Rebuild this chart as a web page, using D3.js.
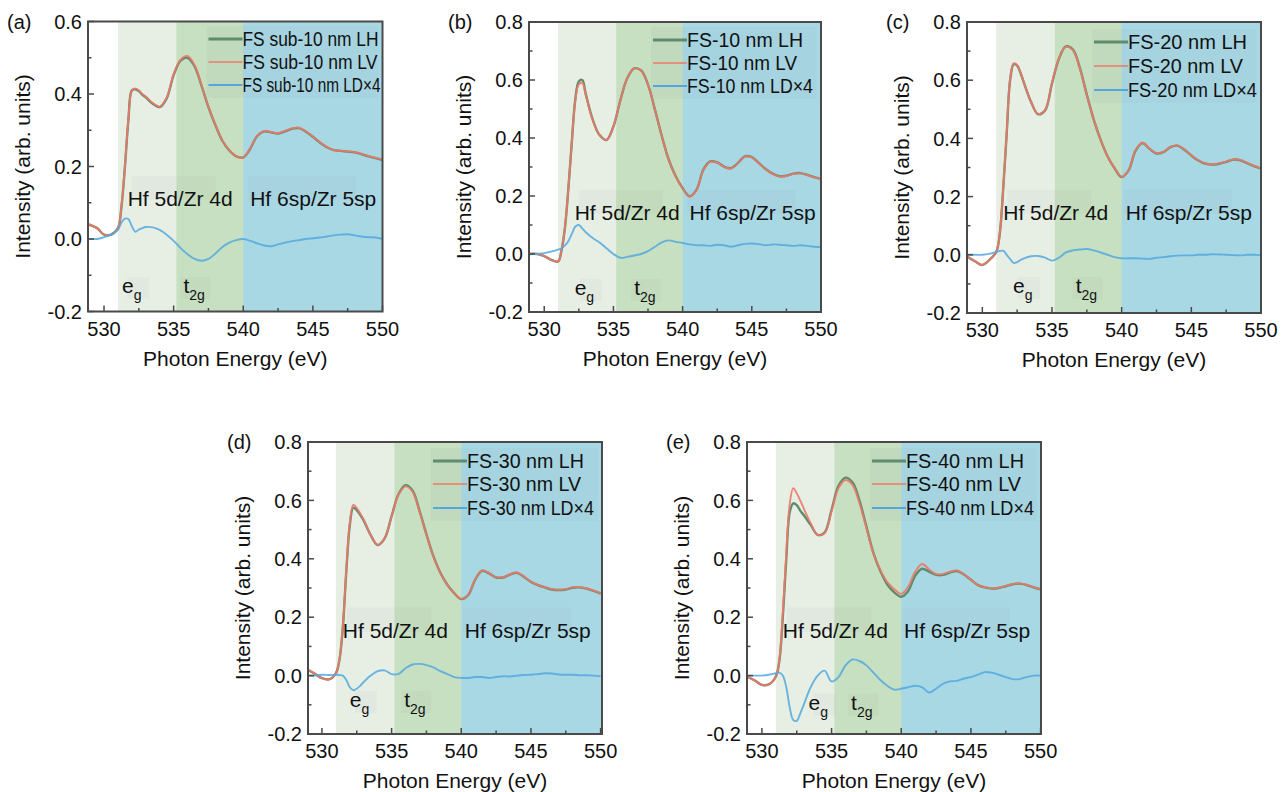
<!DOCTYPE html>
<html><head><meta charset="utf-8">
<script src="https://cdn.jsdelivr.net/npm/d3@7"></script>
<style>
body{margin:0;background:#fff}
svg{display:block}
text{font-family:"Liberation Sans",Arial,Helvetica,sans-serif;fill:#111}
</style>
</head><body>
<svg id="chart" width="1283" height="792"></svg>
<script>
// ---------- data ----------
const energy = [528.9,529.5,530,530.5,531,531.25,531.5,531.75,532,532.25,532.5,532.75,533,533.5,534,534.5,535,535.5,536,536.5,537,537.5,538,538.5,539,539.5,540,540.5,541,541.5,542,542.5,543,543.5,544,544.5,545,545.5,546,546.5,547,547.5,548,548.5,549,549.5,550];

const aLV = [0.04,0.03,0.012,0.012,0.03,0.09,0.20,0.33,0.41,0.415,0.41,0.40,0.393,0.375,0.365,0.39,0.455,0.495,0.505,0.48,0.425,0.365,0.315,0.272,0.245,0.228,0.225,0.25,0.285,0.298,0.295,0.292,0.298,0.305,0.307,0.297,0.283,0.267,0.254,0.245,0.243,0.242,0.240,0.235,0.229,0.224,0.219];
const aLH = [0.04,0.03,0.012,0.012,0.03,0.088,0.198,0.328,0.41,0.413,0.408,0.398,0.391,0.373,0.364,0.388,0.452,0.492,0.50,0.477,0.423,0.364,0.314,0.271,0.244,0.228,0.225,0.249,0.284,0.297,0.294,0.291,0.297,0.304,0.306,0.296,0.282,0.266,0.253,0.245,0.243,0.241,0.239,0.234,0.228,0.223,0.218];
const aLD = [0.0,0.0,0.005,0.012,0.025,0.045,0.056,0.055,0.035,0.02,0.026,0.03,0.033,0.032,0.025,0.012,-0.005,-0.025,-0.042,-0.055,-0.06,-0.055,-0.04,-0.022,-0.01,-0.003,0.0,-0.005,-0.012,-0.018,-0.02,-0.015,-0.01,-0.006,-0.003,0.0,0.002,0.004,0.007,0.01,0.012,0.013,0.01,0.007,0.005,0.004,0.0];

const bLV = [0.0,0.0,-0.007,-0.02,-0.026,0.014,0.094,0.23,0.39,0.53,0.585,0.59,0.548,0.462,0.41,0.393,0.44,0.53,0.606,0.64,0.632,0.583,0.497,0.405,0.324,0.267,0.226,0.198,0.22,0.29,0.318,0.315,0.30,0.295,0.313,0.336,0.333,0.313,0.292,0.276,0.267,0.269,0.276,0.278,0.272,0.264,0.257];
const bLH = [0.0,0.0,-0.007,-0.02,-0.026,0.012,0.092,0.228,0.39,0.535,0.595,0.60,0.552,0.464,0.41,0.393,0.44,0.53,0.606,0.64,0.633,0.584,0.498,0.406,0.325,0.268,0.227,0.199,0.221,0.291,0.319,0.316,0.301,0.296,0.314,0.337,0.334,0.314,0.293,0.277,0.268,0.27,0.277,0.279,0.273,0.265,0.258];
const bLD = [0.0,0.0,0.003,0.008,0.015,0.02,0.03,0.045,0.07,0.095,0.1,0.088,0.075,0.055,0.04,0.02,0.0,-0.013,-0.01,-0.005,0.0,0.01,0.025,0.04,0.047,0.042,0.038,0.033,0.03,0.03,0.028,0.032,0.03,0.025,0.03,0.035,0.036,0.034,0.03,0.033,0.032,0.03,0.028,0.03,0.028,0.025,0.024];

const cLV = [-0.006,-0.023,-0.035,-0.018,0.01,0.074,0.23,0.42,0.606,0.658,0.652,0.625,0.59,0.526,0.484,0.497,0.59,0.675,0.715,0.703,0.64,0.549,0.463,0.394,0.337,0.297,0.268,0.291,0.36,0.385,0.365,0.349,0.354,0.371,0.376,0.362,0.342,0.325,0.314,0.311,0.314,0.32,0.328,0.326,0.316,0.306,0.297];
const cLH = [-0.006,-0.023,-0.035,-0.018,0.01,0.072,0.228,0.418,0.602,0.655,0.65,0.624,0.589,0.525,0.483,0.496,0.589,0.674,0.716,0.705,0.642,0.55,0.464,0.394,0.337,0.297,0.267,0.29,0.358,0.384,0.364,0.348,0.353,0.37,0.375,0.361,0.341,0.324,0.313,0.31,0.313,0.319,0.327,0.325,0.315,0.305,0.296];
const cLD = [0.0,0.0,0.0,0.003,0.01,0.013,0.014,0.0,-0.015,-0.028,-0.025,-0.018,-0.012,-0.005,-0.004,-0.01,-0.02,-0.01,0.008,0.015,0.018,0.02,0.015,0.008,0.0,-0.008,-0.012,-0.012,-0.012,-0.013,-0.014,-0.01,-0.008,-0.005,-0.003,-0.002,-0.002,0.0,0.0,0.002,0.001,0.0,-0.001,-0.002,0.0,0.0,-0.001];

const dLV = [0.022,0.006,-0.009,-0.013,0.008,0.054,0.168,0.362,0.522,0.585,0.574,0.555,0.534,0.482,0.448,0.47,0.545,0.62,0.648,0.63,0.562,0.482,0.408,0.351,0.311,0.282,0.263,0.277,0.33,0.36,0.351,0.337,0.337,0.347,0.353,0.339,0.322,0.311,0.303,0.296,0.294,0.296,0.302,0.303,0.299,0.291,0.282];
const dLH = [0.022,0.006,-0.009,-0.013,0.008,0.052,0.165,0.358,0.515,0.575,0.567,0.55,0.531,0.481,0.447,0.47,0.546,0.622,0.652,0.634,0.565,0.484,0.409,0.352,0.311,0.282,0.262,0.276,0.329,0.359,0.35,0.336,0.336,0.346,0.352,0.338,0.321,0.31,0.302,0.295,0.293,0.295,0.301,0.302,0.298,0.29,0.281];
const dLD = [0.0,0.0,0.003,0.002,0.003,0.002,0.0,-0.015,-0.04,-0.05,-0.045,-0.035,-0.022,0.0,0.015,0.018,0.005,0.006,0.025,0.038,0.04,0.036,0.028,0.015,0.005,-0.005,-0.008,-0.008,-0.005,-0.005,-0.008,-0.005,-0.002,-0.003,0.0,0.002,0.003,0.005,0.008,0.007,0.004,0.003,0.003,0.001,0.001,0.0,-0.002];

const eLV = [-0.003,-0.017,-0.032,-0.03,-0.003,0.054,0.213,0.419,0.59,0.642,0.624,0.6,0.573,0.522,0.482,0.487,0.562,0.642,0.67,0.653,0.59,0.505,0.419,0.362,0.32,0.296,0.28,0.305,0.356,0.382,0.364,0.348,0.348,0.356,0.36,0.347,0.328,0.31,0.303,0.299,0.301,0.307,0.314,0.316,0.311,0.303,0.296];
const eLH = [-0.003,-0.017,-0.032,-0.03,-0.003,0.05,0.2,0.4,0.56,0.59,0.584,0.565,0.55,0.516,0.482,0.49,0.568,0.65,0.678,0.662,0.6,0.51,0.42,0.358,0.312,0.285,0.27,0.29,0.342,0.366,0.356,0.345,0.345,0.353,0.358,0.346,0.328,0.31,0.302,0.298,0.3,0.306,0.313,0.315,0.31,0.302,0.295];
const eLD = [0.0,0.0,0.0,0.003,0.008,0.01,0.0,-0.04,-0.11,-0.152,-0.155,-0.13,-0.1,-0.04,0.0,0.017,-0.02,-0.005,0.035,0.055,0.05,0.035,0.01,-0.015,-0.035,-0.048,-0.045,-0.04,-0.035,-0.04,-0.058,-0.045,-0.028,-0.02,-0.018,-0.01,-0.005,0.003,0.012,0.01,0.003,-0.005,-0.012,-0.012,-0.005,0.0,0.0];

const panelTags = ["(a)","(b)","(c)","(d)","(e)"];
const samples = ["FS sub-10 nm","FS-10 nm","FS-20 nm","FS-30 nm","FS-40 nm"];
const polarizations = ["LH","LV","LD\u00d74"];
const regionBounds = [531.0, 535.2, 540.0, 550];
const xTicks = [530,535,540,545,550];
const yTicksA = [-0.2,0,0.2,0.4,0.6];
const yTicks = [-0.2,0,0.2,0.4,0.6,0.8];
const bandLabels = ["Hf 5d/Zr 4d","Hf 6sp/Zr 5sp"];

// ---------- layout ----------
const panels = [
  {LH:aLH,LV:aLV,LD:aLD,yTicks:yTicksA,L:88,R:382.5,T:21.5,B:311.5,xDom:[528.85,550],
   band:[531.7,540.5,0.091],eg:[531.3,535.7,-0.149],legW:[136,135,138],legDx:140,legY:[39,62,85]},
  {LH:bLH,LV:bLV,LD:bLD,yTicks:yTicks,L:529,R:821,T:22,B:312,xDom:[528.9,550],
   band:[532.2,540.5,0.117],eg:[532.2,536.5,-0.141],legW:[116,110,126],legDx:134,legY:[40,63,86]},
  {LH:cLH,LV:cLV,LD:cLD,yTicks:yTicks,L:967,R:1261,T:22,B:313,xDom:[528.9,550],
   band:[531.5,540.3,0.12],eg:[532.2,536.7,-0.131],legW:[119,115,129],legDx:133,legY:[42,66,90]},
  {LH:dLH,LV:dLV,LD:dLD,yTicks:yTicks,L:308,R:602,T:442,B:734,xDom:[529.0,550.1],
   band:[531.5,540.25,0.13],eg:[532.0,535.9,-0.107],legW:[117,114,127],legDx:135,legY:[461,484,508]},
  {LH:eLH,LV:eLV,LD:eLD,yTicks:yTicks,L:747,R:1041,T:442,B:734,xDom:[528.93,550.03],
   band:[531.5,540.2,0.13],eg:[533.35,536.4,-0.117],legW:[118,115,128],legDx:135,legY:[461,484,508]}
];

const COL = {LH:"#5f8c6c", LV:"#ee7868", LD:"#52a8de", frame:"#4a4a4a",
  reg:["#e7efe5","#c7e0c1","#a9d8e5"]};

const svg = d3.select("#chart");
const fmt = v => (Math.abs(v) < 1e-9 ? "0.0" : d3.format(".1f")(v).replace("\u2212","-"));

panels.forEach((p,i) => {
  const x = d3.scaleLinear().domain(p.xDom).range([p.L,p.R]);
  const yTop = p.yTicks[p.yTicks.length-1];
  const y = d3.scaleLinear().domain([-0.2,yTop]).range([p.B,p.T]);
  const g = svg.append("g");
  const cid = "clip"+i;
  g.append("clipPath").attr("id",cid).append("rect")
    .attr("x",p.L).attr("y",p.T).attr("width",p.R-p.L).attr("height",p.B-p.T);
  const inner = g.append("g").attr("clip-path",`url(#${cid})`);

  // shaded regions
  for (let k=0;k<3;k++){
    inner.append("rect").attr("x",x(regionBounds[k])).attr("y",p.T)
      .attr("width",x(regionBounds[k+1])-x(regionBounds[k])+4).attr("height",p.B-p.T)
      .attr("fill",COL.reg[k]);
  }

  // faint label boxes
  const boxFill = "rgba(120,120,120,0.055)";
  const bandBase = y(p.band[2]);
  inner.append("rect").attr("x",x(p.band[0])+4).attr("y",bandBase-30).attr("width",84).attr("height",24).attr("fill",boxFill);
  inner.append("rect").attr("x",x(p.band[1])-2).attr("y",bandBase-30).attr("width",108).attr("height",24).attr("fill",boxFill);
  const egBase = y(p.eg[2]);
  inner.append("rect").attr("x",x(p.eg[0])+5).attr("y",egBase-16).attr("width",22).attr("height",22).attr("fill",boxFill);
  inner.append("rect").attr("x",x(p.eg[1])-3).attr("y",egBase-16).attr("width",30).attr("height",22).attr("fill",boxFill);

  // legend background
  const lx0 = p.R - p.legDx - 34;
  inner.append("rect").attr("x",lx0-2).attr("y",p.legY[0]-13).attr("width",p.legDx+34-2)
    .attr("height",p.legY[2]-p.legY[0]+26).attr("fill","rgba(90,110,120,0.05)");

  // curves
  const line = d3.line().x((d,j)=>x(energy[j])).y(d=>y(d)).curve(d3.curveCatmullRom.alpha(0.5));
  inner.append("path").attr("d",line(p.LH)).attr("fill","none").attr("stroke",COL.LH).attr("stroke-width",2.4);
  inner.append("path").attr("d",line(p.LV)).attr("fill","none").attr("stroke",COL.LV).attr("stroke-width",1.9).attr("opacity",0.9);
  inner.append("path").attr("d",line(p.LD)).attr("fill","none").attr("stroke",COL.LD).attr("stroke-width",1.9).attr("opacity",0.85);

  // band labels
  g.append("text").attr("x",x(p.band[0])).attr("y",bandBase).attr("font-size",21).text(bandLabels[0]);
  g.append("text").attr("x",x(p.band[1])).attr("y",bandBase).attr("font-size",21).text(bandLabels[1]);
  const te = g.append("text").attr("x",x(p.eg[0])).attr("y",egBase).attr("font-size",21);
  te.append("tspan").text("e");
  te.append("tspan").attr("dy",7).attr("font-size",14).text("g");
  const tt = g.append("text").attr("x",x(p.eg[1])).attr("y",egBase).attr("font-size",21);
  tt.append("tspan").text("t");
  tt.append("tspan").attr("dy",7).attr("font-size",14).text("2g");

  // legend
  const cols = [COL.LH, COL.LV, COL.LD];
  const widths = [2.8,1.6,2];
  polarizations.forEach((pol,k)=>{
    const tx = p.R - p.legDx;
    g.append("line").attr("x1",tx-34).attr("x2",tx).attr("y1",p.legY[k]).attr("y2",p.legY[k])
      .attr("stroke",cols[k]).attr("stroke-width",widths[k]);
    g.append("text").attr("x",tx).attr("y",p.legY[k]).attr("dy","0.36em").attr("font-size",20)
      .attr("textLength",p.legW[k]).attr("lengthAdjust","spacingAndGlyphs")
      .text(samples[i]+" "+pol);
  });

  // axes ticks (inward)
  const tg = g.append("g").attr("stroke",COL.frame).attr("stroke-width",1.5);
  const minorX = d3.range(530,550.01,2.5);
  minorX.forEach(v=>{
    const major = xTicks.includes(v);
    tg.append("line").attr("x1",x(v)).attr("x2",x(v)).attr("y1",p.B).attr("y2",p.B-(major?6:3.5));
  });
  const minorY = d3.range(-0.2,yTop+0.001,0.1);
  minorY.forEach(v=>{
    const major = Math.abs(Math.round(v*10))%2===0;
    tg.append("line").attr("x1",p.L).attr("x2",p.L+(major?6:3.5)).attr("y1",y(v)).attr("y2",y(v));
  });

  // frame
  g.append("rect").attr("x",p.L).attr("y",p.T).attr("width",p.R-p.L).attr("height",p.B-p.T)
    .attr("fill","none").attr("stroke",COL.frame).attr("stroke-width",2);

  // tick labels
  xTicks.forEach(v=>{
    g.append("text").attr("x",x(v)).attr("y",p.B+24).attr("text-anchor","middle").attr("font-size",20).text(v);
  });
  p.yTicks.forEach(v=>{
    g.append("text").attr("x",p.L-6).attr("y",y(v)).attr("dy","0.36em").attr("text-anchor","end").attr("font-size",20).text(fmt(v));
  });

  // axis titles
  g.append("text").attr("x",(p.L+p.R)/2).attr("y",p.B+54).attr("text-anchor","middle").attr("font-size",21).text("Photon Energy (eV)");
  g.append("text").attr("transform",`translate(${p.L-66},${(p.T+p.B)/2}) rotate(-90)`)
    .attr("text-anchor","middle").attr("dy","0.36em").attr("font-size",21).text("Intensity (arb. units)");

  // panel tag
  g.append("text").attr("x",p.L-81).attr("y",p.T+7).attr("font-size",20).text(panelTags[i]);
});
</script>
</body></html>
